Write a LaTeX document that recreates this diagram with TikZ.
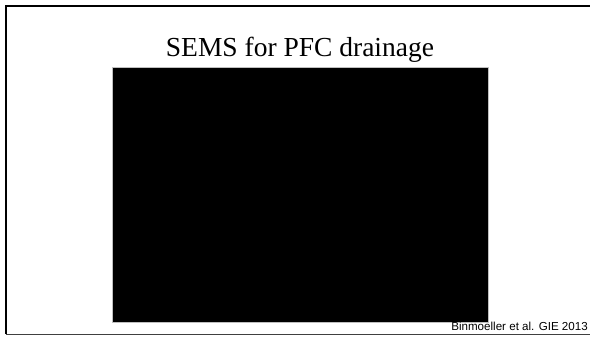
\documentclass[tikz,border=0pt]{standalone}
\usepackage{fontspec}
\setmainfont{Liberation Serif}
\newfontfamily\citefont{Liberation Sans}
\begin{document}
\begin{tikzpicture}[x=1pt,y=-1pt,anchor=center,
  titletext/.style={font=\fontsize{27.5}{30}\selectfont,inner sep=0pt},
  citetext/.style={font=\citefont\fontsize{11.6}{13}\selectfont,inner sep=0pt},
  photo/.style={fill=black,draw=black!25,line width=0.8pt,inner sep=0pt}]
\useasboundingbox (0,0) rectangle (590,337);
\draw[line width=2.2pt] (6,334) -- (6,6) -- (590,6);
\draw[line width=1pt,black!75] (6,334) -- (590,334);
\node[titletext,anchor=base] (title) at (300,57) {SEMS for PFC drainage};
\node[photo,minimum width=376pt,minimum height=255pt] (img) at (300,194.5) {};
\node[citetext,anchor=base east] (cite) at (588,330.5) {Binmoeller et al. GIE 2013};
\end{tikzpicture}
\end{document}
